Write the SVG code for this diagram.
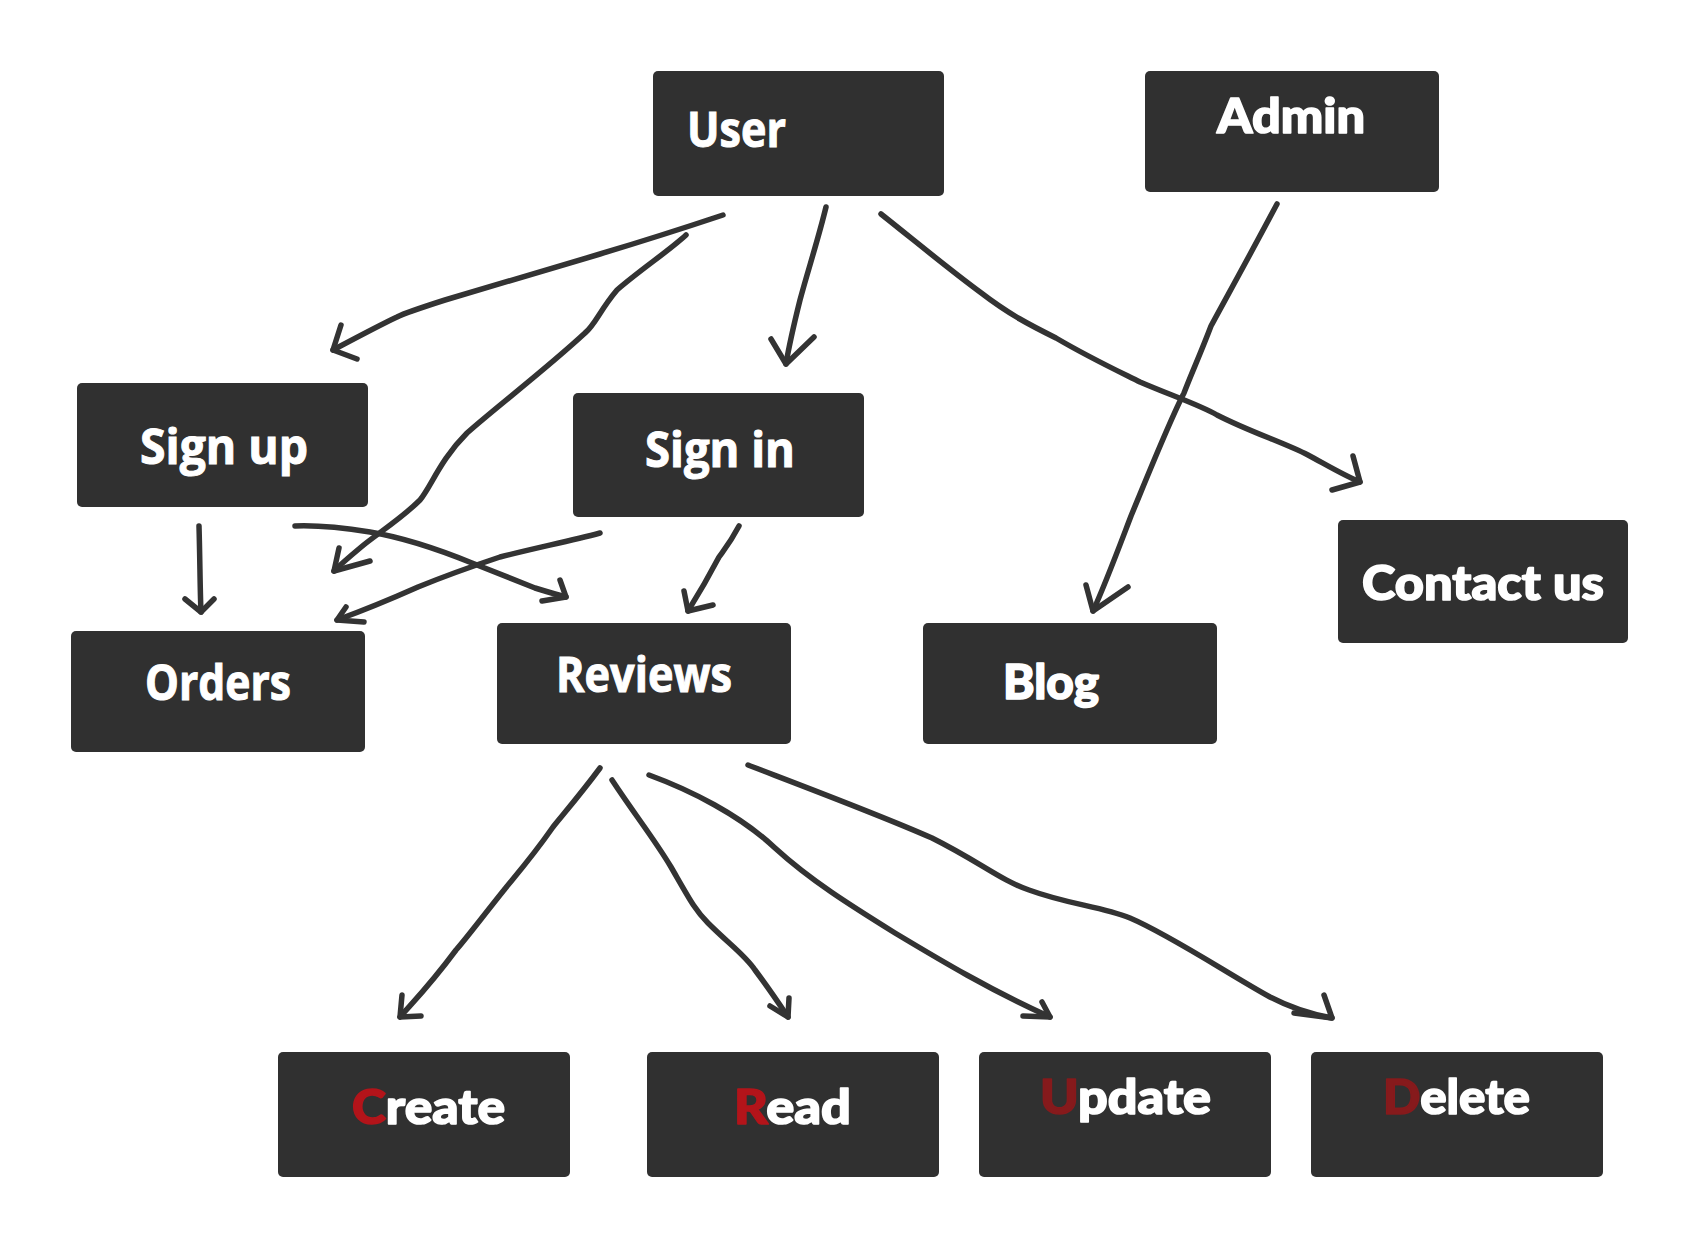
<svg xmlns="http://www.w3.org/2000/svg" width="1682" height="1253" viewBox="0 0 1682 1253">
<style>
.box{fill:#303030}
.c{font-family:"Open Sans","Liberation Sans",sans-serif;font-weight:700;font-size:48px;fill:#ffffff;stroke:#ffffff;stroke-width:1}
.r{font-family:Lato,"Open Sans","Liberation Sans",sans-serif;font-weight:900;font-size:48px;fill:#ffffff;stroke:#ffffff;stroke-width:1.6;stroke-linejoin:round}
.red1{fill:#b3141a;stroke:#b3141a}
.red2{fill:#861a1c;stroke:#861a1c}
.ln{fill:none;stroke:#333333;stroke-width:5.5;stroke-linecap:round;stroke-linejoin:round}
</style>
<rect width="1682" height="1253" fill="#ffffff"/>
<g id="connectors">
<path class="ln" d="M723,215 C690,226 640,242 600,254 C540,272 480,290 445,300 C420,308 405,313 397,317 C380,325 365,333 333,350"/>
<path class="ln" d="M341,325 L333,350 L357,359"/>
<path class="ln" d="M686,235 C670,250 640,270 617,290 C600,310 595,325 585,333 C545,370 495,408 467,433 C440,460 432,485 420,500 C400,520 375,535 360,548 C348,558 340,565 334,571"/>
<path class="ln" d="M339,548 L334,571 L370,561"/>
<path class="ln" d="M826,207 C818,240 808,270 800,300 C795,320 790,340 786,364"/>
<path class="ln" d="M771,339 L786,364 L814,337"/>
<path class="ln" d="M881,214 C920,245 950,270 980,292 C1010,315 1030,325 1056,338 C1090,358 1120,372 1140,382 C1170,395 1200,405 1217,415 C1250,432 1285,443 1308,455 C1330,467 1345,476 1360,482"/>
<path class="ln" d="M1353,456 L1360,482 L1332,490"/>
<path class="ln" d="M1277,204 C1250,255 1225,300 1211,326 C1200,355 1192,372 1184,393 C1170,420 1150,470 1131,516 C1118,550 1105,585 1093,611"/>
<path class="ln" d="M1086,585 L1093,611 L1128,587"/>
<path class="ln" d="M199,526 C200,560 200,590 201,612"/>
<path class="ln" d="M185,599 L201,612 L214,599"/>
<path class="ln" d="M295,526 C320,525 345,528 370,532 C400,537 440,550 472,563 C495,572 515,580 535,588 C548,592 558,595 566,597"/>
<path class="ln" d="M560,580 L566,597 L542,601"/>
<path class="ln" d="M600,533 C570,541 540,547 500,557 C470,567 440,578 418,587 C400,595 370,608 337,620"/>
<path class="ln" d="M346,607 L337,620 L364,622"/>
<path class="ln" d="M739,526 C730,543 724,550 719,557 C708,578 698,595 688,611"/>
<path class="ln" d="M684,591 L688,611 L713,605"/>
<path class="ln" d="M600,768 C580,795 560,818 553,827 C530,860 510,882 504,890 C480,920 465,940 456,950 C430,985 415,1000 400,1017"/>
<path class="ln" d="M402,995 L400,1017 L421,1016"/>
<path class="ln" d="M612,780 C635,815 655,840 671,867 C690,900 695,910 708,923 C730,945 745,955 755,970 C770,990 780,1005 788,1017"/>
<path class="ln" d="M789,998 L788,1017 L770,1006"/>
<path class="ln" d="M649,775 C690,790 740,815 775,848 C810,880 850,905 895,933 C940,960 990,990 1050,1017"/>
<path class="ln" d="M1042,1002 L1050,1017 L1023,1016"/>
<path class="ln" d="M748,765 C800,785 880,815 932,838 C980,862 1000,880 1029,890 C1070,905 1100,906 1130,918 C1170,935 1230,975 1270,997 C1295,1010 1315,1015 1332,1018"/>
<path class="ln" d="M1324,995 L1332,1018 L1294,1013"/>
</g>
<g id="node-user"><rect class="box" x="653" y="71" width="291" height="125" rx="5"/><text class="c" x="687" y="147" textLength="99" lengthAdjust="spacingAndGlyphs">User</text></g>
<g id="node-admin"><rect class="box" x="1145" y="71" width="294" height="121" rx="5"/><text class="r" x="1217" y="133" textLength="148" lengthAdjust="spacingAndGlyphs">Admin</text></g>
<g id="node-signup"><rect class="box" x="77" y="383" width="291" height="124" rx="5"/><text class="c" x="140" y="464" textLength="168" lengthAdjust="spacingAndGlyphs">Sign up</text></g>
<g id="node-signin"><rect class="box" x="573" y="393" width="291" height="124" rx="5"/><text class="c" x="645" y="467" textLength="150" lengthAdjust="spacingAndGlyphs">Sign in</text></g>
<g id="node-contact"><rect class="box" x="1338" y="520" width="290" height="123" rx="5"/><text class="r" x="1362" y="600" textLength="242" lengthAdjust="spacingAndGlyphs">Contact us</text></g>
<g id="node-orders"><rect class="box" x="71" y="631" width="294" height="121" rx="5"/><text class="c" x="145" y="700" textLength="146" lengthAdjust="spacingAndGlyphs">Orders</text></g>
<g id="node-reviews"><rect class="box" x="497" y="623" width="294" height="121" rx="5"/><text class="c" x="556" y="692" textLength="176" lengthAdjust="spacingAndGlyphs">Reviews</text></g>
<g id="node-blog"><rect class="box" x="923" y="623" width="294" height="121" rx="5"/><text class="r" x="1003" y="699" textLength="96" lengthAdjust="spacingAndGlyphs">Blog</text></g>
<g id="node-create"><rect class="box" x="278" y="1052" width="292" height="125" rx="5"/><text class="r" x="352" y="1124" textLength="153" lengthAdjust="spacingAndGlyphs"><tspan class="red1">C</tspan>reate</text></g>
<g id="node-read"><rect class="box" x="647" y="1052" width="292" height="125" rx="5"/><text class="r" x="734" y="1124" textLength="117" lengthAdjust="spacingAndGlyphs"><tspan class="red1">R</tspan>ead</text></g>
<g id="node-update"><rect class="box" x="979" y="1052" width="292" height="125" rx="5"/><text class="r" x="1040" y="1114" textLength="171" lengthAdjust="spacingAndGlyphs"><tspan class="red2">U</tspan>pdate</text></g>
<g id="node-delete"><rect class="box" x="1311" y="1052" width="292" height="125" rx="5"/><text class="r" x="1383" y="1114" textLength="147" lengthAdjust="spacingAndGlyphs"><tspan class="red2">D</tspan>elete</text></g>
</svg>
